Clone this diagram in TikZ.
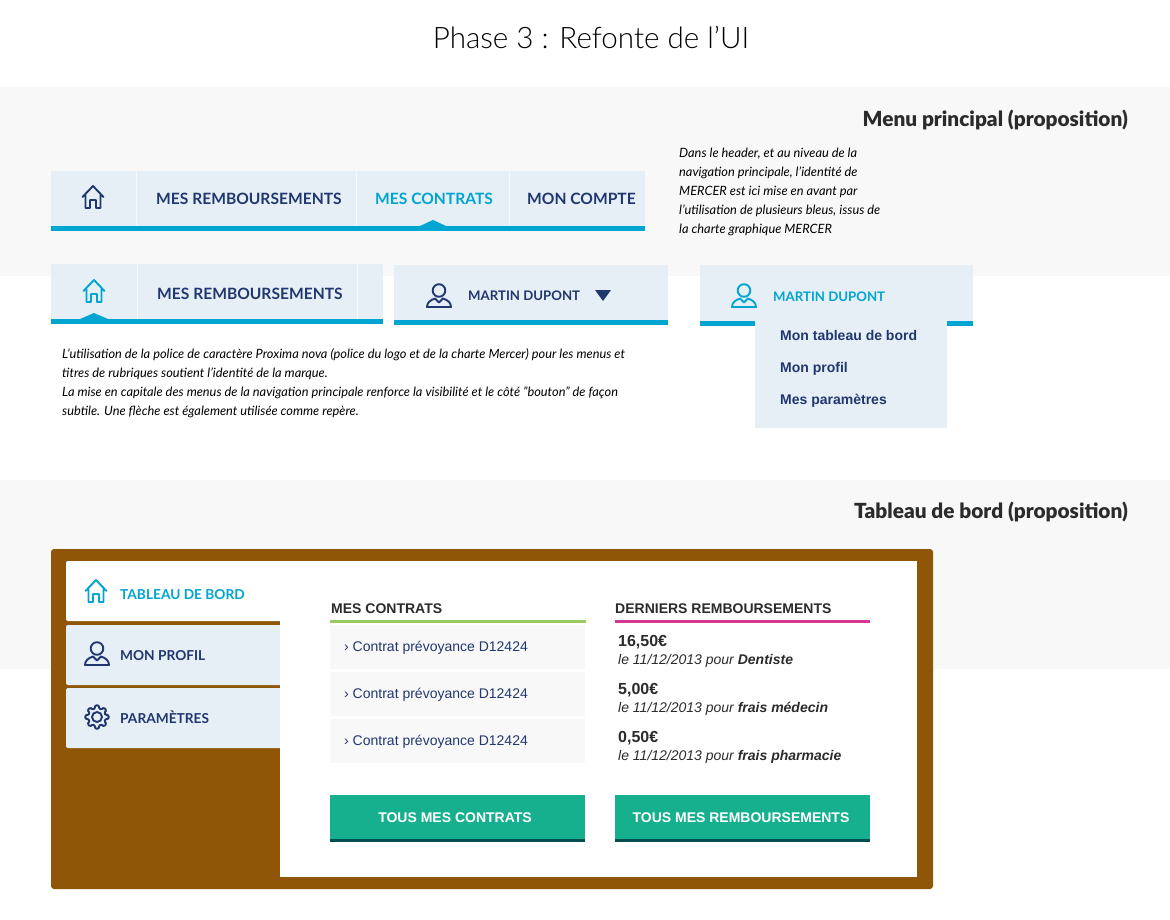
\documentclass[tikz,border=0pt]{standalone}
\usepackage{fontspec}
\setmainfont{Lato}
\newfontfamily\lightfont[UprightFont={* Light}]{Lato}
\newfontfamily\blackfont[UprightFont={* Black}]{Lato}
\newfontfamily\arialfont{Liberation Sans}
\definecolor{bandgrey}{HTML}{F8F8F8}
\definecolor{tabblue}{HTML}{E6EEF6}
\definecolor{navy}{HTML}{21376F}
\definecolor{cyanline}{HTML}{00A5D1}
\definecolor{boardbrown}{HTML}{8E5606}
\definecolor{btngreen}{HTML}{17B08F}
\definecolor{btndark}{HTML}{004F4F}
\definecolor{inkdark}{HTML}{2B2B2B}
\definecolor{linegreen}{HTML}{9BCB5E}
\definecolor{linepink}{HTML}{D4388F}
\tikzset{
  lbl/.style={inner sep=0pt,anchor=base west},
  navlbl/.style={lbl,font=\fontsize{15.6}{16}\selectfont\bfseries,text=navy},
  sidelbl/.style={lbl,font=\fontsize{13.7}{14}\selectfont\bfseries,text=navy},
  userlbl/.style={lbl,font=\fontsize{13.2}{14}\selectfont\bfseries,text=navy},
  headlbl/.style={inner sep=0pt,anchor=base east,font=\blackfont\fontsize{20.8}{21}\selectfont,text=inkdark},
  note/.style={inner sep=0pt,anchor=north west,align=left,font=\fontsize{12.8}{19}\selectfont\itshape,text=black},
  sectlbl/.style={lbl,font=\arialfont\fontsize{14}{14}\selectfont\bfseries,text=inkdark},
  rowlbl/.style={lbl,font=\arialfont\fontsize{14}{14}\selectfont,text=navy},
  amountlbl/.style={lbl,font=\arialfont\fontsize{16}{16}\selectfont\bfseries,text=inkdark},
  sublbl/.style={lbl,font=\arialfont\fontsize{14}{14}\selectfont\itshape,text=inkdark},
  btnlbl/.style={inner sep=0pt,anchor=base,font=\arialfont\fontsize{14}{14}\selectfont\bfseries,text=white},
  menulbl/.style={lbl,font=\arialfont\fontsize{14}{14}\selectfont\bfseries,text=navy},
  pics/homeicon/.style={code={
    \draw[line width=1.9pt,#1,line join=round,line cap=round]
      (-10.5,0) -- (0,-11) -- (10.5,0)
      (-7.5,-2) -- (-7.5,11) -- (-3,11) -- (-3,3) -- (3,3) -- (3,11) -- (7.5,11) -- (7.5,-2);
  }},
  pics/usericon/.style={code={
    \draw[line width=1.9pt,#1,line join=round]
      (0,-5.5) circle (6.3)
      (-4,2.5) .. controls (-9,4) and (-12,7) .. (-12,11) -- (12,11) .. controls (12,7) and (9,4) .. (4,2.5) -- (0,6.5) -- cycle;
  }},
  pics/gearicon/.style={code={
    \draw[line width=1.9pt,#1] (0,0) circle (5);
    \draw[line width=1.9pt,#1,rounded corners=1pt]
      (-14:8.7) \foreach \a in {0,45,...,315} {
        -- ({\a-14}:8.7) -- ({\a-9}:11.7) -- ({\a+9}:11.7) -- ({\a+14}:8.7)
      } -- cycle;
  }}
}
\begin{document}
\begin{tikzpicture}[x=1pt,y=-1pt]
  \useasboundingbox (0,0) rectangle (1170,920);
  \fill[white] (0,0) rectangle (1170,920);
  % bands
  \fill[bandgrey] (0,87) rectangle (1170,276);
  \fill[bandgrey] (0,480) rectangle (1170,669);
  \node[inner sep=0pt,anchor=base,font=\lightfont\fontsize{29.6}{30}\selectfont,text=black] (title) at (591,49) {Phase 3 : Refonte de l’UI};
  \node[headlbl] (menuhead) at (1128,127) {Menu principal (proposition)};
  \node[headlbl] (boardhead) at (1128,518) {Tableau de bord (proposition)};
  % main nav
  \fill[tabblue] (51,171) rectangle (645,227);
  \fill[cyanline] (51,226) rectangle (645,231);
  \fill[cyanline] (420,226) -- (433,220) -- (446,226) -- cycle;
  \foreach \x in {137,357,510} {\fill[bandgrey] (\x-1,171) rectangle (\x,226);}
  \pic at (93,197) {homeicon=navy};
  \node[navlbl] (navrembt) at (156,205) {MES REMBOURSEMENTS};
  \node[navlbl,text=cyanline] (navcontrats) at (375,205) {MES CONTRATS};
  \node[navlbl] (navcompte) at (527,205) {MON COMPTE};
  % second nav
  \fill[tabblue] (51,264) rectangle (383,320);
  \fill[cyanline] (51,319) rectangle (383,324);
  \fill[cyanline] (80,319) -- (94,313) -- (108,319) -- cycle;
  \foreach \x in {138,358} {\fill[bandgrey] (\x-1,264) rectangle (\x,319);}
  \pic at (94,291) {homeicon=cyanline};
  \node[navlbl] (navrembtb) at (157,299) {MES REMBOURSEMENTS};
  % user boxes
  \fill[tabblue] (394,265) rectangle (668,321);
  \fill[cyanline] (394,320) rectangle (668,325);
  \pic at (439,296) {usericon=navy};
  \node[userlbl] (usera) at (468,300) {MARTIN DUPONT};
  \fill[navy] (595,290) -- (611,290) -- (603,301) -- cycle;
  \fill[tabblue] (700,265) rectangle (973,321);
  \fill[cyanline] (700,321) rectangle (973,326);
  \fill[tabblue] (755,320) rectangle (947,428);
  \pic at (744,296) {usericon=cyanline};
  \node[userlbl,text=cyanline] (userb) at (773,301) {MARTIN DUPONT};
  \node[menulbl] (menutab) at (780,340) {Mon tableau de bord};
  \node[menulbl] (menuprofil) at (780,372) {Mon profil};
  \node[menulbl] (menuparam) at (780,404) {Mes paramètres};
  % notes
  \node[note] (notenav) at (679,148) {Dans le header, et au niveau de la\\navigation principale, l’identité de\\MERCER est ici mise en avant par\\l’utilisation de plusieurs bleus, issus de\\la charte graphique MERCER};
  \node[note] (notefont) at (62,348) {L’utilisation de la police de caractère Proxima nova (police du logo et de la charte Mercer) pour les menus et\\titres de rubriques soutient l’identité de la marque.\\La mise en capitale des menus de la navigation principale renforce la visibilité et le côté "bouton" de façon\\subtile. Une flèche est également utilisée comme repère.};
  % dashboard
  \fill[boardbrown,rounded corners=3pt] (51,549) rectangle (933,889);
  \fill[white] (280,561) rectangle (917,877);
  \fill[white,rounded corners=2pt] (66,561) rectangle (300,621);
  \fill[tabblue,rounded corners=2pt] (66,625) rectangle (290,685);
  \fill[tabblue,rounded corners=2pt] (66,688) rectangle (290,748);
  \fill[white] (280,600) rectangle (300,760);
  \pic at (96,591) {homeicon=cyanline};
  \pic at (97,654) {usericon=navy};
  \pic at (97,717) {gearicon=navy};
  \node[sidelbl,text=cyanline] (tabboard) at (120,599) {TABLEAU DE BORD};
  \node[sidelbl] (tabprofil) at (120,660) {MON PROFIL};
  \node[sidelbl] (tabparam) at (120,723) {PARAMÈTRES};
  % contrats
  \node[sectlbl] (sectcontrats) at (331,613) {MES CONTRATS};
  \node[sectlbl] (sectrembt) at (615,613) {DERNIERS REMBOURSEMENTS};
  \fill[linegreen] (330,620) rectangle (586,623);
  \fill[linepink] (615,620) rectangle (870,623);
  \foreach \y/\n in {625/a,672/b,719/c} {
    \fill[bandgrey] (330,\y) rectangle (585,\y+44);
    \node[rowlbl] (row\n) at (344,\y+26) {› Contrat prévoyance D12424};
  }
  % remboursements
  \node[amountlbl] (amounta) at (618,646) {16,50€};
  \node[sublbl] (suba) at (618,664) {le 11/12/2013 pour \textbf{Dentiste}};
  \node[amountlbl] (amountb) at (618,694) {5,00€};
  \node[sublbl] (subb) at (618,712) {le 11/12/2013 pour \textbf{frais médecin}};
  \node[amountlbl] (amountc) at (618,742) {0,50€};
  \node[sublbl] (subc) at (618,760) {le 11/12/2013 pour \textbf{frais pharmacie}};
  % buttons
  \fill[btngreen] (330,795) rectangle (585,840);
  \fill[btndark] (330,839) rectangle (585,842);
  \fill[btngreen] (615,795) rectangle (870,840);
  \fill[btndark] (615,839) rectangle (870,842);
  \node[btnlbl] (btncontrats) at (455,822) {TOUS MES CONTRATS};
  \node[btnlbl] (btnrembt) at (741,822) {TOUS MES REMBOURSEMENTS};
\end{tikzpicture}
\end{document}
